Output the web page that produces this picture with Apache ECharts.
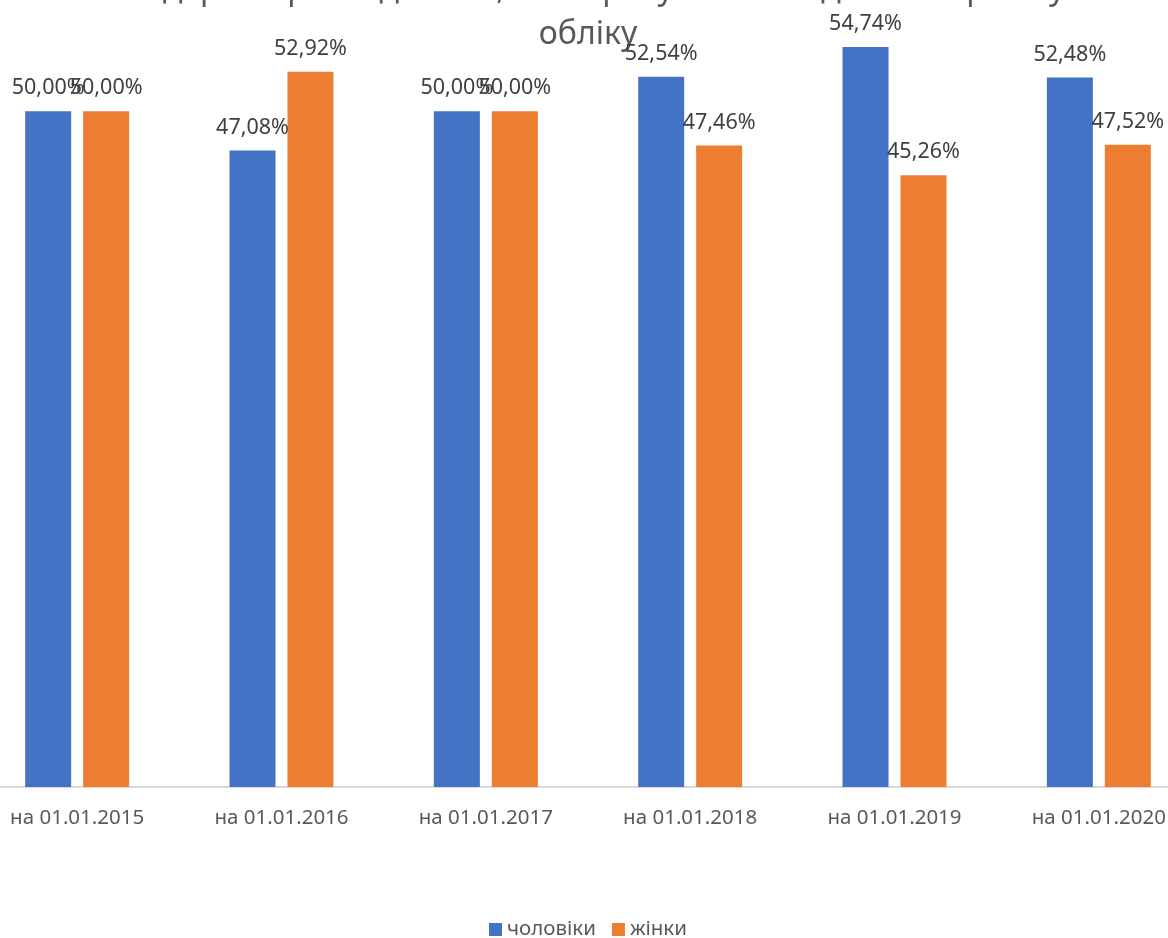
<!DOCTYPE html>
<html>
<head>
<meta charset="utf-8">
<script src="https://cdn.jsdelivr.net/npm/echarts@6/dist/echarts.min.js"></script>
<style>html,body{margin:0;padding:0;background:#fff;overflow:hidden;width:1168px;height:938px;}#c{width:1226px;height:938px;margin-left:-25px;}</style>
</head>
<body>
<div id="c"></div>
<script>
const categories = ['на 01.01.2015','на 01.01.2016','на 01.01.2017','на 01.01.2018','на 01.01.2019','на 01.01.2020'];
const men = [50.00, 47.08, 50.00, 52.54, 54.74, 52.48];
const women = [50.00, 52.92, 50.00, 47.46, 45.26, 47.52];
const seriesNames = ['чоловіки', 'жінки'];
const titleLines = ['Гендерний розподіл осіб, які перебувають на диспансерному', 'обліку'];

const FONT = '"Noto Sans", sans-serif';
const chart = echarts.init(document.getElementById('c'), null, {renderer: 'canvas'});
const fmt = p => p.value.toFixed(2).replace('.', ',') + '%';
const labelCfg = {show: true, position: 'top', distance: 12, formatter: fmt, color: '#404040', fontSize: 21.5, fontFamily: FONT};
const titleStyle = {fill: '#595959', font: '32px ' + FONT, textAlign: 'center', textVerticalAlign: 'middle'};
chart.setOption({
  animation: false,
  backgroundColor: '#fff',
  graphic: [
    {type: 'text', x: 613, y: -10, style: Object.assign({text: titleLines[0]}, titleStyle)},
    {type: 'text', x: 613, y: 35, style: Object.assign({text: titleLines[1]}, titleStyle)}
  ],
  legend: {
    top: 914, left: 'center', itemWidth: 13, itemHeight: 13, itemGap: 16,
    icon: 'rect',
    textStyle: {color: '#595959', fontSize: 20.5, fontFamily: FONT},
    data: seriesNames
  },
  grid: {left: 0, right: 0, top: 3, bottom: 151, containLabel: false},
  xAxis: {
    type: 'category', data: categories,
    axisLine: {lineStyle: {color: '#d9d9d9', width: 2}},
    axisTick: {show: false},
    axisLabel: {color: '#595959', fontSize: 20.5, fontFamily: FONT, margin: 21}
  },
  yAxis: {type: 'value', min: 0, max: 58, show: false, splitLine: {show: false}},
  series: [
    {name: seriesNames[0], type: 'bar', data: men, barWidth: 46, barGap: '26%', itemStyle: {color: '#4472C4'}, label: labelCfg},
    {name: seriesNames[1], type: 'bar', data: women, barWidth: 46, itemStyle: {color: '#ED7D31'}, label: labelCfg}
  ]
});
</script>
</body>
</html>
